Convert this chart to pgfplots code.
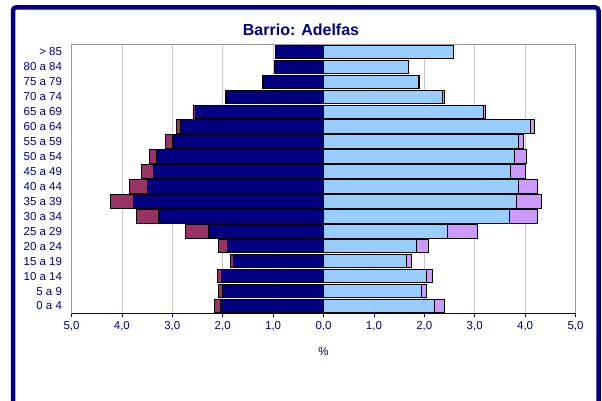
\documentclass[border=0pt]{standalone}
\usepackage{pgfplots}
\pgfplotsset{compat=1.18}
\usepackage{pgfplotstable}
\usepackage{fontspec}
\setmainfont{Liberation Sans}
\definecolor{navyc}{HTML}{000080}
\definecolor{maroonc}{HTML}{993366}
\definecolor{lightbc}{HTML}{99CCFF}
\definecolor{lilacc}{HTML}{CC99FF}

% y  navy  mtot  light  ftot   (left values negative)
\pgfplotstableread{
y  navy   mtot   light  ftot
17 -0.95  -0.95  2.58   2.58
16 -0.97  -0.97  1.69   1.69
15 -1.19  -1.21  1.88   1.91
14 -1.93  -1.95  2.37   2.40
13 -2.54  -2.58  3.18   3.22
12 -2.83  -2.91  4.10   4.18
11 -3.00  -3.13  3.87   3.96
10 -3.32  -3.45  3.79   4.02
9  -3.37  -3.62  3.72   4.01
8  -3.50  -3.84  3.87   4.25
7  -3.76  -4.23  3.82   4.33
6  -3.27  -3.72  3.70   4.24
5  -2.29  -2.73  2.47   3.06
4  -1.90  -2.08  1.85   2.09
3  -1.79  -1.85  1.65   1.74
2  -2.03  -2.10  2.04   2.17
1  -2.00  -2.08  1.94   2.05
0  -2.05  -2.17  2.21   2.40
}\datatable

\begin{document}
\begin{tikzpicture}
\useasboundingbox (0,0) rectangle (602bp,401bp);
\fill[white] (0,0) rectangle (602bp,401bp);
\draw[navyc, line width=4.5bp, rounded corners=3bp] (13bp,393.5bp) rectangle (598.5bp,-20bp);
\node[font=\fontsize{16bp}{19bp}\selectfont\bfseries, text=navyc] at (301bp,371bp) {Barrio: Adelfas};
\begin{axis}[
  at={(71.5bp,87.5bp)}, anchor=south west,
  scale only axis, width=504bp, height=269bp,
  xmin=-5, xmax=5, ymin=-0.5, ymax=17.5,
  xbar, bar width=13.4bp, bar shift=0pt,
  xtick={-5,-4,-3,-2,-1,0,1,2,3,4,5},
  xticklabels={{5,0},{4,0},{3,0},{2,0},{1,0},{0,0},{1,0},{2,0},{3,0},{4,0},{5,0}},
  ytick={0,...,17},
  yticklabels={0 a 4,5 a 9,10 a 14,15 a 19,20 a 24,25 a 29,30 a 34,35 a 39,40 a 44,45 a 49,50 a 54,55 a 59,60 a 64,65 a 69,70 a 74,75 a 79,80 a 84,> 85},
  /pgf/number format/assume math mode=true,
  ticklabel style={font=\fontsize{11.5bp}{13bp}\selectfont, text=navyc},
  xtick pos=bottom, tick align=outside,
  major tick length=4bp,
  xtick style={navyc, line width=0.8pt},
  ytick style={draw=none},
  axis line style={gray!80, line width=0.8pt},
  xmajorgrids, grid style={gray!45, line width=0.5pt},
  yticklabel style={xshift=-2bp},
]
\addplot[fill=maroonc, draw=black, line width=1pt] table[x=mtot, y=y] {\datatable};
\addplot[fill=navyc, draw=black, line width=1pt] table[x=navy, y=y] {\datatable};
\addplot[fill=lilacc, draw=black, line width=1pt] table[x=ftot, y=y] {\datatable};
\addplot[fill=lightbc, draw=black, line width=1pt] table[x=light, y=y] {\datatable};
\draw[navyc, line width=1.2pt] (axis cs:-5,-0.5) -- (axis cs:5,-0.5);
\end{axis}
\node[font=\fontsize{11.5bp}{13bp}\selectfont, text=navyc] at (323.5bp,49bp) {\%};
\end{tikzpicture}
\end{document}
